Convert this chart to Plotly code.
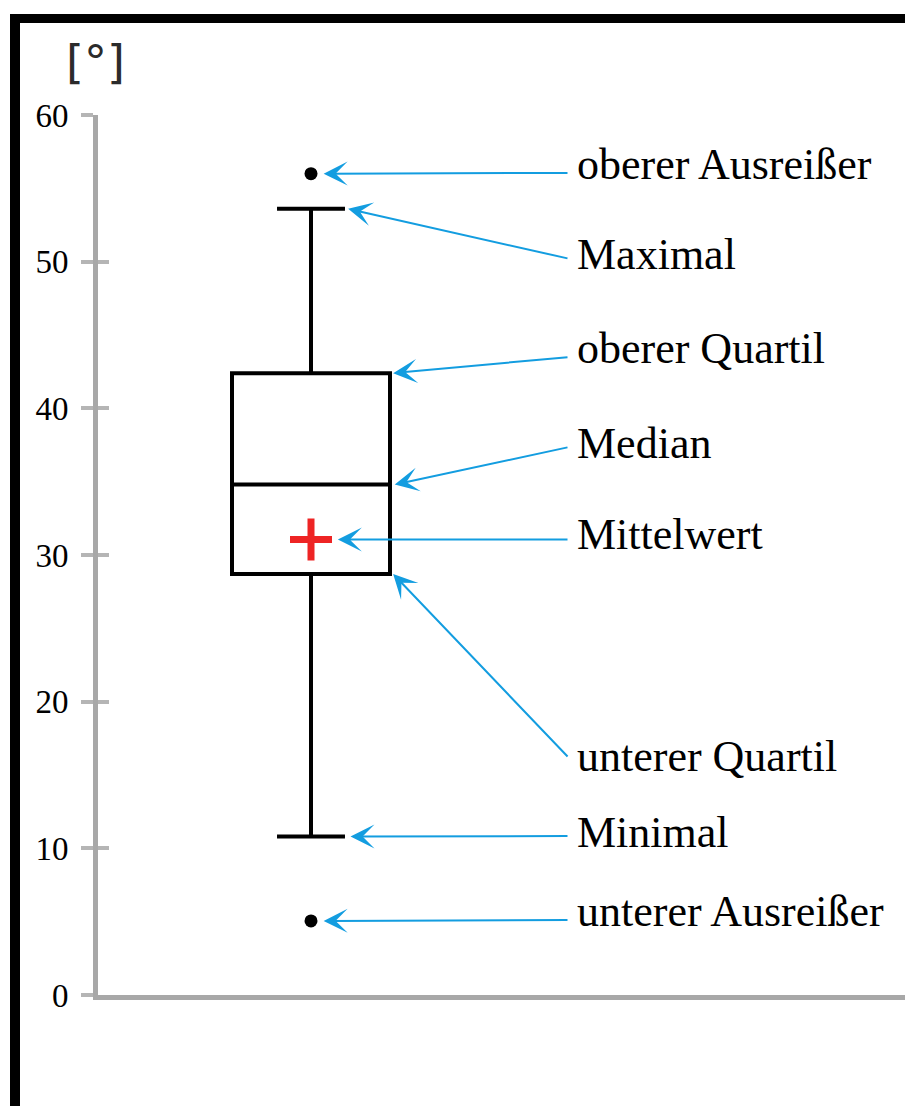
import plotly.graph_objects as go

# ---------------- data ----------------
box_name = ["Winkel"]
q1_vals = [28.7]
median_vals = [34.8]
q3_vals = [42.4]
lower_fence = [10.8]
upper_fence = [53.6]
mean_vals = [31.05]
outlier_vals = [56.0, 5.05]

label_texts = ["oberer Ausreißer", "Maximal", "oberer Quartil", "Median",
               "Mittelwert", "unterer Quartil", "Minimal", "unterer Ausreißer"]
y_ticks = [0, 10, 20, 30, 40, 50, 60]
unit_label = "[°]"

# ---------------- geometry / style ----------------
W, H = 905, 1106
ML, MR, MT, MB = 98, 0, 115, 111
PW = W - ML - MR
PH = H - MT - MB
BOX_X = 0.0
X_RANGE = [-(311 - ML) / 158.0, (W - 311) / 158.0]
ARROW = "#139de0"
SERIF = "Liberation Serif"

def px_to_paper_x(p):
    return (p - ML) / PW

def px_to_paper_y(p):
    return (H - MB - p) / PH

fig = go.Figure()

fig.add_trace(go.Box(
    x=[BOX_X], q1=q1_vals, median=median_vals, q3=q3_vals,
    lowerfence=lower_fence, upperfence=upper_fence,
    width=1.0, whiskerwidth=0.43,
    fillcolor="white", line=dict(color="black", width=4),
    boxpoints=False, showlegend=False, name=box_name[0], hoverinfo="skip",
))

fig.add_trace(go.Scatter(
    x=[BOX_X] * len(outlier_vals), y=outlier_vals, mode="markers",
    marker=dict(symbol="circle", size=13, color="black"),
    showlegend=False, hoverinfo="skip",
))

fig.add_trace(go.Scatter(
    x=[BOX_X], y=mean_vals, mode="markers",
    marker=dict(symbol="cross-thin", size=30,
                line=dict(color="#ee2424", width=7)),
    showlegend=False, hoverinfo="skip",
))

# arrow heads (value-based) and tails / label positions (layout)
head_pts = [
    (0.08, outlier_vals[0]),
    (0.235, upper_fence[0]),
    (0.52, q3_vals[0]),
    (0.53, median_vals[0]),
    (0.17, mean_vals[0]),
    (0.52, q1_vals[0]),
    (0.25, lower_fence[0]),
    (0.08, outlier_vals[1]),
]
tail_y = [56.05, 50.2, 43.5, 37.36, 31.05, 16.16, 10.84, 5.11]
label_y = [56.6, 50.49, 44.05, 37.57, 31.40, 16.23, 11.05, 5.66]
TAIL_X = (569 - 311) / 158.0
LABEL_X = (575 - 311) / 158.0

annotations = []
for (hx, hy), ty in zip(head_pts, tail_y):
    annotations.append(dict(
        x=hx, y=hy, xref="x", yref="y", ax=TAIL_X, ay=ty, axref="x", ayref="y",
        text="", showarrow=True, arrowhead=3, arrowsize=2.0, arrowwidth=2,
        arrowcolor=ARROW, standoff=0,
    ))
for t, ly in zip(label_texts, label_y):
    annotations.append(dict(
        x=LABEL_X, y=ly, xref="x", yref="y", text=t, showarrow=False,
        xanchor="left", yanchor="middle",
        font=dict(family=SERIF, size=44, color="black"),
    ))
annotations.append(dict(
    x=px_to_paper_x(95), y=px_to_paper_y(62), xref="paper", yref="paper",
    text=unit_label, showarrow=False, xanchor="center", yanchor="middle",
    font=dict(family="DejaVu Sans", size=46, color="#2b2b2b"),
))

shapes = [
    dict(type="rect", xref="paper", yref="paper",
         x0=px_to_paper_x(10), x1=px_to_paper_x(W + 5),
         y0=px_to_paper_y(23), y1=px_to_paper_y(14),
         fillcolor="black", line=dict(width=0), layer="above"),
    dict(type="rect", xref="paper", yref="paper",
         x0=px_to_paper_x(10), x1=px_to_paper_x(20),
         y0=px_to_paper_y(H + 5), y1=px_to_paper_y(14),
         fillcolor="black", line=dict(width=0), layer="above"),
]

AXIS_GRAY = "#a8a8a8"
fig.update_layout(
    width=W, height=H,
    margin=dict(l=ML, r=MR, t=MT, b=MB, pad=0),
    paper_bgcolor="white", plot_bgcolor="white",
    showlegend=False,
    xaxis=dict(range=X_RANGE, showgrid=False, zeroline=False,
               showticklabels=False, ticks="", showline=True,
               linecolor=AXIS_GRAY, linewidth=5, fixedrange=True),
    yaxis=dict(range=[0, 60], tickvals=y_ticks, showgrid=False, zeroline=False,
               showline=True, linecolor=AXIS_GRAY, linewidth=5,
               ticks="outside", ticklen=12, tickwidth=4, tickcolor="#b5b5b5",
               ticklabelstandoff=6,
               tickfont=dict(family=SERIF, size=33, color="black")),
    yaxis2=dict(range=[0, 60], overlaying="y", side="left", tickvals=y_ticks,
                showgrid=False, zeroline=False, showline=False,
                showticklabels=False, ticks="inside", ticklen=11,
                tickwidth=4, tickcolor="#b5b5b5"),
    annotations=annotations,
    shapes=shapes,
)
fig.add_trace(go.Scatter(x=[None], y=[None], yaxis="y2", showlegend=False,
                         hoverinfo="skip"))

fig.write_html(
    "out.html",
    config={"displayModeBar": False, "staticPlot": True},
    post_script="document.body.style.margin='0';document.body.style.padding='0';"
                "document.body.style.overflow='hidden';",
)
